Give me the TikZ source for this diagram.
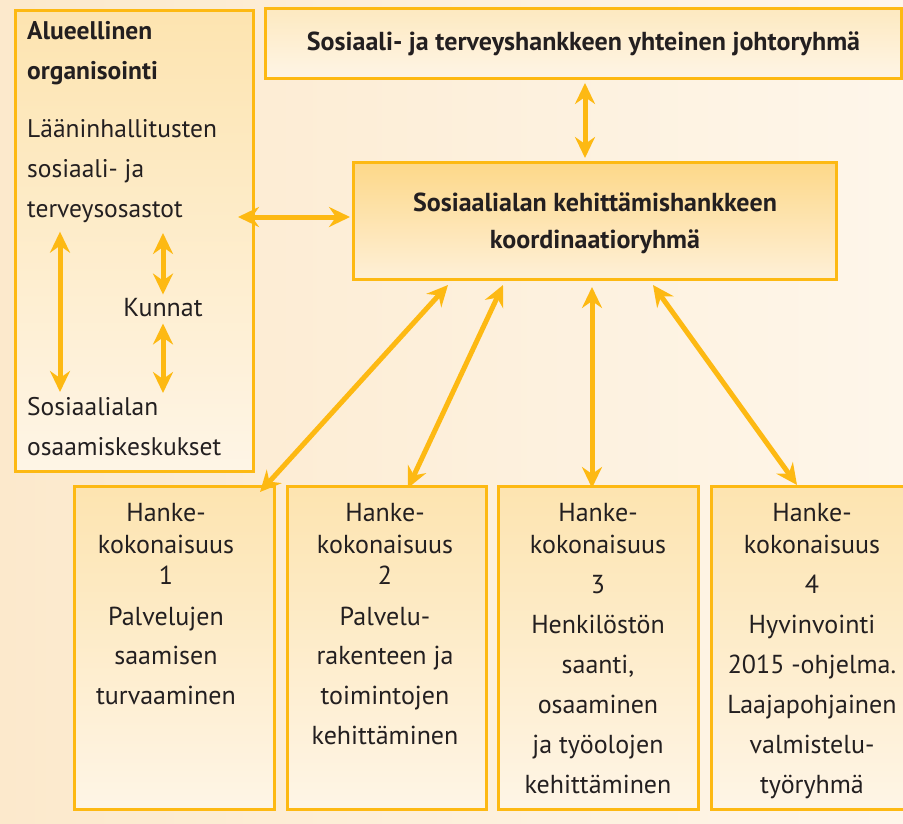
\documentclass[tikz,border=0pt]{standalone}
\usepackage{fontspec}
\setmainfont{PT Sans}
\usetikzlibrary{arrows.meta,calc}
\definecolor{bor}{HTML}{FDB913}
\definecolor{txt}{HTML}{231F20}
\definecolor{bgL}{HTML}{FCE9CC}
\definecolor{bgR}{HTML}{FEF6EA}
\definecolor{fillT}{HTML}{FDE4B0}
\definecolor{fillB}{HTML}{FEF5E6}
\definecolor{fillCT}{HTML}{FDD889}
\definecolor{fillCB}{HTML}{FEF0D8}
\begin{document}
\begin{tikzpicture}[x=1pt,y=-1pt,
  box/.style={draw=bor, line width=3pt, inner sep=0pt, anchor=north west,
              top color=fillT, bottom color=fillB},
  arr/.style={draw=bor, line width=5pt,
              {Stealth[length=21pt,width=20pt,inset=7pt]}-{Stealth[length=21pt,width=20pt,inset=7pt]}},
  tx/.style={text=txt, font=\fontsize{26}{40}\selectfont, inner sep=0pt, align=center},
  txl/.style={text=txt, font=\fontsize{25.5}{40}\selectfont, inner sep=0pt, align=left, anchor=north west},
  txb/.style={text=txt, font=\fontsize{26}{37}\selectfont\bfseries, inner sep=0pt, align=center}]
\useasboundingbox (0,0) rectangle (903,823);
\clip (0,0) rectangle (903,823);
\fill[left color=bgL, right color=bgR] (0,0) rectangle (903,823);

% boxes
\node[box, minimum width=238pt, minimum height=461pt] (L) at (14,9) {};
\node[box, minimum width=636pt, minimum height=70pt, top color=fillT!70!fillB] (T) at (264,7) {};
\node[box, minimum width=483pt, minimum height=117pt, top color=fillCT, bottom color=fillCB] (C) at (352,161) {};
\node[box, minimum width=200pt, minimum height=323pt] (B1) at (73,485) {};
\node[box, minimum width=199pt, minimum height=323pt] (B2) at (286,485) {};
\node[box, minimum width=200pt, minimum height=323pt] (B3) at (497,485) {};
\node[box, minimum width=210pt, minimum height=323pt] (B4) at (710,485) {};

% texts
\node[txb] (Tt) at (T) {Sosiaali- ja terveyshankkeen yhteinen johtoryhmä};
\node[txb] (Ct) at ([yshift=-2pt]C.center) {Sosiaalialan kehittämishankkeen\\koordinaatioryhmä};
\node[txl, font=\fontsize{25.5}{40}\selectfont\bfseries] (L1) at (27,21) {Alueellinen\\organisointi};
\node[txl] (L2) at (27,119) {Lääninhallitusten\\sosiaali- ja\\terveysosastot};
\node[tx] (K) at (163,308) {Kunnat};
\node[txl] (L3) at (27,397) {Sosiaalialan\\osaamiskeskukset};

\node[tx, anchor=north] (B1t) at (166,503) {Hanke-\\[-8pt]kokonaisuus\\[-9pt]1\\[1pt]Palvelujen\\[-1pt]saamisen\\turvaaminen};
\node[tx, anchor=north] (B2t) at (385,503) {Hanke-\\[-8pt]kokonaisuus\\[-9pt]2\\[1pt]Palvelu-\\[-1pt]rakenteen ja\\toimintojen\\kehittäminen};
\node[tx, anchor=north] (B3t) at (598,503) {Hanke-\\[-8pt]kokonaisuus\\3\\Henkilöstön\\saanti,\\osaaminen\\ja työolojen\\kehittäminen};
\node[tx, anchor=north] (B4t) at (812,503) {Hanke-\\[-8pt]kokonaisuus\\4\\Hyvinvointi\\2015 -ohjelma.\\Laajapohjainen\\valmistelu-\\työryhmä};

% connectors
\draw[arr] ([yshift=-3pt]T.south -| 585,0) -- ([yshift=3pt]C.north -| 585,0);
\draw[arr] ([xshift=-17pt]L.east |- 0,217) -- ([xshift=-2pt]C.west |- 0,217);
\draw[arr] (L2.south -| 60,0) ++(0,9) -- (60,392);
\draw[arr] (K.north |- 0,233) -- ([yshift=4pt]K.north);
\draw[arr] ([yshift=-6pt]K.south) -- (K.south |- 0,393);
\draw[arr] ([shift={(96pt,-4pt)}]C.south west) -- ([shift={(187pt,-7pt)}]B1.north west);
\draw[arr] ([shift={(151pt,-4pt)}]C.south west) -- ([shift={(122pt,-3pt)}]B2.north west);
\draw[arr] ([shift={(240pt,-6pt)}]C.south west) -- ([shift={(95pt,-3pt)}]B3.north west);
\draw[arr] ([shift={(301pt,-4pt)}]C.south west) -- ([shift={(87pt,0pt)}]B4.north west);
\end{tikzpicture}
\end{document}
